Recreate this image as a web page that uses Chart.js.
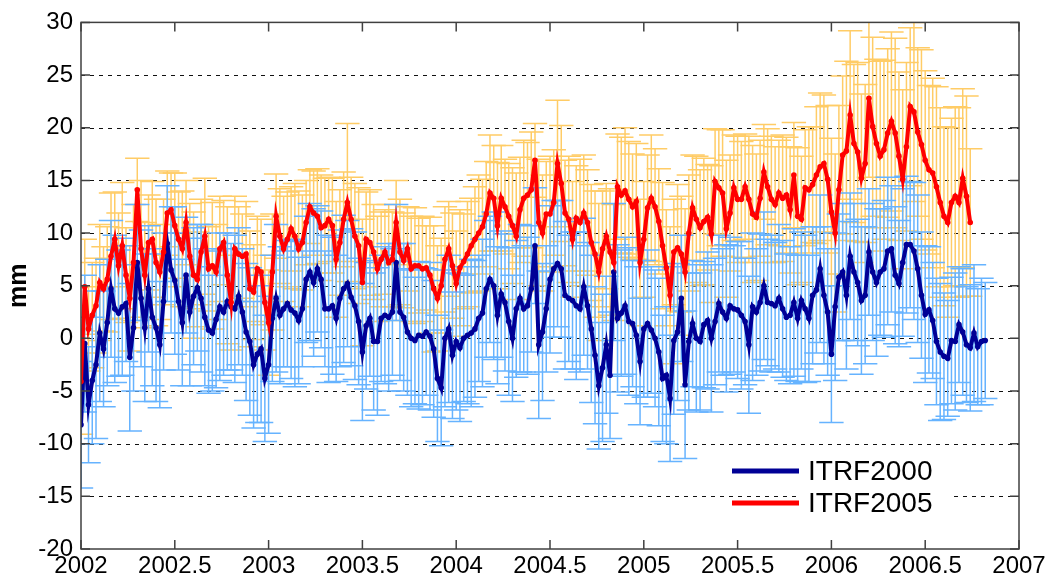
<!DOCTYPE html>
<html>
<head>
<meta charset="utf-8">
<script src="https://cdn.jsdelivr.net/npm/chart.js@4.4.1/dist/chart.umd.min.js"></script>
<style>
  html, body { margin: 0; padding: 0; background: #fff; }
  #wrap { width: 1052px; height: 583px; }
</style>
</head>
<body>
<div id="wrap"><canvas id="chart"></canvas></div>
<script>
// weekly-ish epochs (decimal years)
const years = [
  2002.00,2002.02,2002.04,2002.06,2002.08,2002.10,2002.12,2002.14,2002.16,2002.18,
  2002.20,2002.22,2002.24,2002.26,2002.28,2002.30,2002.32,2002.34,2002.36,2002.38,
  2002.40,2002.42,2002.44,2002.46,2002.48,2002.50,2002.52,2002.54,2002.56,2002.58,
  2002.60,2002.62,2002.64,2002.66,2002.68,2002.70,2002.72,2002.74,2002.76,2002.78,
  2002.80,2002.82,2002.84,2002.86,2002.88,2002.90,2002.92,2002.94,2002.96,2002.98,
  2003.00,2003.02,2003.04,2003.06,2003.08,2003.10,2003.12,2003.14,2003.16,2003.18,
  2003.20,2003.22,2003.24,2003.26,2003.28,2003.30,2003.32,2003.34,2003.36,2003.38,
  2003.40,2003.42,2003.44,2003.46,2003.48,2003.50,2003.52,2003.54,2003.56,2003.58,
  2003.60,2003.62,2003.64,2003.66,2003.68,2003.70,2003.72,2003.74,2003.76,2003.78,
  2003.80,2003.82,2003.84,2003.86,2003.88,2003.90,2003.92,2003.94,2003.96,2003.98,
  2004.00,2004.02,2004.04,2004.06,2004.08,2004.10,2004.12,2004.14,2004.16,2004.18,
  2004.20,2004.22,2004.24,2004.26,2004.28,2004.30,2004.32,2004.34,2004.36,2004.38,
  2004.40,2004.42,2004.44,2004.46,2004.48,2004.50,2004.52,2004.54,2004.56,2004.58,
  2004.60,2004.62,2004.64,2004.66,2004.68,2004.70,2004.72,2004.74,2004.76,2004.78,
  2004.80,2004.82,2004.84,2004.86,2004.88,2004.90,2004.92,2004.94,2004.96,2004.98,
  2005.00,2005.02,2005.04,2005.06,2005.08,2005.10,2005.12,2005.14,2005.16,2005.18,
  2005.20,2005.22,2005.24,2005.26,2005.28,2005.30,2005.32,2005.34,2005.36,2005.38,
  2005.40,2005.42,2005.44,2005.46,2005.48,2005.50,2005.52,2005.54,2005.56,2005.58,
  2005.60,2005.62,2005.64,2005.66,2005.68,2005.70,2005.72,2005.74,2005.76,2005.78,
  2005.80,2005.82,2005.84,2005.86,2005.88,2005.90,2005.92,2005.94,2005.96,2005.98,
  2006.00,2006.02,2006.04,2006.06,2006.08,2006.10,2006.12,2006.14,2006.16,2006.18,
  2006.20,2006.22,2006.24,2006.26,2006.28,2006.30,2006.32,2006.34,2006.36,2006.38,
  2006.40,2006.42,2006.44,2006.46,2006.48,2006.50,2006.52,2006.54,2006.56,2006.58,
  2006.60,2006.62,2006.64,2006.66,2006.68,2006.70,2006.72,2006.74,2006.76,2006.78,
  2006.80,2006.82
];

// ITRF2000 (mm)
const itrf2000 = [
  -8.2,-0.5,-6.3,-4.0,-2.5,0.5,-1.0,1.5,4.7,2.8,
  2.4,3.0,3.3,-1.8,1.0,7.2,3.8,1.0,4.7,2.0,
  1.0,-0.6,3.5,9.0,6.5,5.5,3.5,1.5,6.0,2.5,
  4.0,4.8,3.8,2.0,0.8,0.5,1.8,3.0,2.5,3.5,
  3.0,2.8,4.0,2.5,0.6,-0.3,-2.5,-1.5,-1.0,-3.8,
  -2.5,1.9,3.8,2.2,2.8,3.3,2.7,2.4,1.7,2.8,
  5.6,6.3,5.3,6.6,5.6,2.8,2.8,3.1,1.9,3.8,
  4.7,5.2,3.9,3.1,1.6,-1.3,1.2,1.9,-0.3,-0.3,
  1.9,2.2,2.0,2.5,7.2,2.5,2.0,0.6,0.0,-0.2,
  0.3,0.2,0.6,0.2,-1.0,-3.8,-4.7,0.0,0.9,-1.6,
  -0.3,-0.9,0.0,0.3,0.5,0.9,1.9,2.4,4.7,5.6,
  5.0,2.2,4.2,3.4,1.6,0.0,2.8,3.8,2.8,3.1,
  4.7,8.8,-0.6,0.6,2.8,5.6,6.6,7.1,6.6,4.1,
  3.8,3.6,3.1,2.8,4.9,3.1,0.9,-1.6,-4.5,-2.8,
  -0.6,-3.5,6.3,1.9,2.4,3.1,1.6,1.4,0.3,-2.2,
  0.9,1.4,0.8,0.0,-1.3,-3.8,-3.5,-5.7,-0.2,0.6,
  3.8,-4.4,-0.3,1.4,0.0,-0.3,1.3,1.7,0.0,1.6,
  3.3,2.5,1.9,3.1,2.8,2.7,2.2,1.6,-0.6,3.0,
  2.5,3.4,5.0,3.4,3.3,3.1,3.8,2.8,2.0,2.2,
  3.4,1.9,3.6,2.8,1.9,4.1,4.6,6.6,4.1,2.5,
  -1.5,3.0,5.8,6.3,4.1,7.8,6.3,5.3,3.6,4.1,
  8.2,6.3,5.3,6.3,6.6,8.3,8.5,6.0,5.2,7.2,
  8.9,8.9,8.3,6.6,4.1,2.3,2.7,1.7,-0.3,-1.3,
  -1.7,-1.9,-0.2,-0.3,1.3,0.6,-0.6,-0.9,0.5,-0.8,
  -0.3,-0.2
];
const itrf2000Err = [
  6.0,6.5,5.5,6.0,7.0,6.5,5.5,6.0,6.5,7.0,
  6.0,6.5,5.5,7.0,6.0,5.5,6.5,7.0,6.0,6.5,
  7.0,6.0,6.5,5.5,6.0,7.0,6.5,6.0,5.5,7.0,
  6.5,6.0,7.0,6.5,6.0,5.5,6.5,7.0,6.0,6.5,
  6.0,7.0,6.5,6.0,6.5,7.0,6.0,6.5,7.0,6.0,
  6.5,6.0,7.0,6.5,5.5,6.0,6.5,7.0,6.0,5.5,
  6.0,6.5,7.0,6.0,6.5,5.5,7.0,6.5,6.0,6.5,
  7.0,6.0,6.5,7.0,6.0,6.5,6.0,5.5,6.5,7.0,
  6.0,6.5,7.0,6.0,5.5,6.5,7.0,6.0,6.5,6.0,
  7.0,6.5,6.0,7.0,6.5,6.0,5.5,6.5,7.0,6.0,
  6.5,7.0,6.0,6.5,7.0,6.5,6.0,7.0,6.5,6.0,
  7.0,6.5,6.0,6.5,7.0,6.0,6.5,7.0,6.0,6.5,
  6.0,5.5,7.0,6.5,6.0,7.0,6.5,6.0,6.5,7.0,
  6.0,6.5,7.0,6.0,6.5,6.0,7.0,6.5,6.0,7.0,
  6.5,6.0,6.5,7.0,6.0,6.5,7.0,6.0,6.5,6.0,
  6.5,7.0,6.0,6.5,7.0,6.0,6.5,6.0,7.0,6.5,
  6.0,7.0,6.5,6.0,7.0,6.5,6.0,6.5,7.0,6.0,
  6.5,6.0,7.0,6.5,6.0,6.5,7.0,6.0,6.5,7.0,
  6.0,6.5,7.0,6.0,6.5,6.0,7.0,6.5,6.0,6.5,
  7.0,6.0,6.5,7.0,6.0,6.5,6.0,7.0,6.5,6.0,
  6.5,7.0,6.0,6.5,7.0,6.0,6.5,6.0,7.0,6.5,
  6.0,6.5,7.0,6.0,6.5,7.0,6.0,6.5,6.0,7.0,
  6.5,6.0,6.5,7.0,6.0,6.5,6.0,5.5,6.0,6.5,
  6.0,5.5,6.0,6.5,5.5,6.0,5.5,6.0,6.5,5.5,
  6.0,5.5
];

// ITRF2005 (mm)
const itrf2005 = [
  -4.1,4.9,0.9,2.2,3.1,5.3,4.7,5.6,7.8,9.4,
  6.9,8.8,6.0,3.8,7.2,14.1,8.5,6.0,9.1,9.4,
  7.2,6.3,8.2,11.9,12.2,10.7,9.4,8.5,11.0,7.8,
  6.0,5.6,8.2,9.7,6.6,6.9,6.3,8.5,9.1,6.0,
  3.4,8.5,8.0,7.8,8.0,4.7,4.4,6.6,6.3,3.4,
  1.5,6.3,11.6,9.7,8.5,9.4,10.4,9.7,8.5,9.1,
  11.0,12.5,11.9,11.6,10.5,10.7,11.3,10.7,7.5,9.1,
  11.3,12.9,11.3,9.7,8.8,5.3,9.4,9.1,8.2,6.6,
  7.5,8.2,7.2,7.5,11.0,8.2,7.4,8.5,6.6,6.9,
  6.9,6.6,6.7,6.0,4.7,3.8,5.0,7.5,8.5,6.9,
  5.2,6.7,7.3,8.0,8.8,9.4,10.0,10.6,11.8,13.8,
  13.3,10.7,13.3,12.5,11.6,10.7,9.7,12.2,13.3,13.6,
  14.1,16.9,11.0,10.0,11.8,11.8,12.9,16.6,14.7,11.9,
  11.3,9.4,11.4,11.0,11.9,11.0,9.1,8.0,6.3,8.5,
  9.7,8.2,7.2,14.4,13.6,14.0,13.2,12.5,13.0,7.2,
  9.4,12.4,13.3,12.5,11.1,8.8,6.7,4.1,8.2,8.6,
  8.0,6.3,10.0,12.4,11.3,10.5,11.1,11.5,9.9,14.9,
  14.3,13.8,10.4,11.9,14.3,13.2,13.2,14.4,13.2,11.8,
  11.5,13.3,15.8,14.4,13.2,12.7,13.8,13.3,13.6,12.2,
  15.5,11.6,11.3,14.3,14.1,14.6,15.5,16.3,16.6,15.1,
  12.0,10.0,14.1,17.4,17.8,21.2,18.5,17.7,15.2,16.6,
  22.8,20.1,18.5,17.3,17.9,19.5,20.6,19.5,17.3,15.1,
  18.2,22.0,21.5,19.6,18.4,16.9,16.0,15.7,14.4,12.9,
  11.6,11.0,12.9,13.5,12.9,15.2,13.5,11.0
];
const itrf2005Err = [
  5.0,4.5,4.0,5.0,4.5,5.5,4.0,5.0,6.0,4.5,
  5.0,6.0,4.5,5.0,5.5,3.0,6.5,5.0,4.5,5.5,
  6.0,4.5,5.0,4.0,3.5,5.0,4.5,5.5,4.0,5.0,
  6.0,4.5,5.0,5.5,4.0,6.0,4.5,5.0,4.0,6.5,
  4.5,5.0,4.5,4.0,5.0,5.5,4.5,5.0,5.0,4.5,
  5.0,5.5,4.0,4.5,5.0,4.5,4.0,5.0,5.5,4.5,
  4.0,3.5,4.0,4.5,5.0,4.5,4.0,4.5,5.5,5.0,
  4.5,7.5,4.0,5.0,5.5,6.0,4.5,5.0,4.5,5.0,
  4.5,4.0,5.5,4.5,4.0,5.0,4.5,4.0,5.0,5.5,
  4.5,5.0,4.0,5.5,6.0,5.0,4.5,5.0,4.5,5.0,
  5.0,5.5,4.5,5.0,4.5,5.0,5.5,4.5,5.0,5.5,
  5.0,6.0,5.0,4.5,5.0,5.5,6.0,5.0,5.5,5.0,
  5.5,3.5,6.0,5.5,5.0,5.5,5.0,6.0,5.5,5.0,
  6.0,5.5,5.0,6.0,5.5,5.0,5.5,6.0,6.5,5.5,
  5.0,6.0,5.5,5.0,5.5,6.0,5.5,5.0,5.5,6.0,
  5.5,5.0,6.0,5.5,5.0,6.0,5.5,6.5,5.0,6.0,
  5.5,6.0,5.5,5.0,6.0,5.5,6.0,5.0,6.5,5.0,
  5.5,6.0,6.5,5.5,5.0,6.0,5.5,5.0,6.0,6.5,
  6.0,5.5,4.5,5.5,6.0,5.5,5.0,6.0,5.5,6.0,
  5.0,6.5,6.0,5.5,6.0,5.5,6.5,7.0,6.5,7.0,
  7.0,7.5,8.0,7.5,8.5,8.0,7.5,8.5,8.0,7.5,
  7.5,8.5,8.0,9.0,8.5,8.0,8.5,9.0,8.0,8.5,
  8.0,7.5,8.5,8.0,9.0,8.5,8.0,9.0,9.5,9.0,
  8.5,9.0,8.0,8.5,9.0,8.5,9.5,7.0
];

const seriesLabels = ['ITRF2000', 'ITRF2005'];
const lineColors = ['#000096', '#ff0000'];
const barColors = ['#66b3ff', '#ffcc66'];
const capHalf = 0.065; // years

function pts(xs, ys) {
  return ys.map((v, i) => ({ x: xs[i], y: v }));
}

const errorBars = {
  id: 'errorBars',
  beforeDatasetsDraw(chart) {
    const { ctx, chartArea: a, scales: { x, y } } = chart;
    ctx.save();
    ctx.beginPath();
    ctx.rect(a.left, a.top, a.right - a.left, a.bottom - a.top);
    ctx.clip();

    // dashed horizontal grid
    ctx.strokeStyle = '#111';
    ctx.lineWidth = 1;
    ctx.setLineDash([4, 5]);
    y.ticks.forEach(t => {
      if (t.value <= y.min || t.value >= y.max) return;
      const py = Math.round(y.getPixelForValue(t.value)) + 0.5;
      ctx.beginPath();
      ctx.moveTo(a.left, py);
      ctx.lineTo(a.right, py);
      ctx.stroke();
    });
    ctx.setLineDash([]);

    // error bars, blue first then orange
    ctx.lineWidth = 1.5;
    chart.data.datasets.slice().reverse().forEach(ds => {
      ctx.strokeStyle = ds.barColor;
      ds.data.forEach((p, i) => {
        const e = ds.err[i];
        const px = x.getPixelForValue(p.x);
        const x0 = x.getPixelForValue(p.x - capHalf);
        const x1 = x.getPixelForValue(p.x + capHalf);
        const yt = y.getPixelForValue(p.y + e);
        const yb = y.getPixelForValue(p.y - e);
        ctx.beginPath();
        ctx.moveTo(px, yt); ctx.lineTo(px, yb);
        ctx.moveTo(x0, yt); ctx.lineTo(x1, yt);
        ctx.moveTo(x0, yb); ctx.lineTo(x1, yb);
        ctx.stroke();
      });
    });
    ctx.restore();
  },
  afterDraw(chart) {
    const { ctx, chartArea: a, scales: { x, y } } = chart;
    ctx.save();
    // axes box and inner ticks
    ctx.strokeStyle = '#404040';
    ctx.lineWidth = 1.5;
    ctx.strokeRect(a.left, a.top, a.right - a.left, a.bottom - a.top);
    ctx.beginPath();
    y.ticks.forEach(t => {
      const py = y.getPixelForValue(t.value);
      ctx.moveTo(a.left, py); ctx.lineTo(a.left + 9, py);
      ctx.moveTo(a.right, py); ctx.lineTo(a.right - 9, py);
    });
    x.ticks.forEach(t => {
      const px = x.getPixelForValue(t.value);
      ctx.moveTo(px, a.bottom); ctx.lineTo(px, a.bottom - 9);
      ctx.moveTo(px, a.top); ctx.lineTo(px, a.top + 9);
    });
    ctx.stroke();

    // legend
    ctx.font = '28px Arial, "Liberation Sans", sans-serif';
    ctx.textBaseline = 'middle';
    const lx0 = a.right - 287, lx1 = a.right - 220, tx = a.right - 211;
    ctx.fillStyle = '#fff';
    ctx.fillRect(lx1 + 2, a.bottom - 94, 152, 63);
    seriesLabels.forEach((lab, i) => {
      const ly = a.bottom - 78 + i * 32;
      ctx.strokeStyle = lineColors[i];
      ctx.lineWidth = 5;
      ctx.beginPath();
      ctx.moveTo(lx0, ly); ctx.lineTo(lx1, ly);
      ctx.stroke();
      ctx.fillStyle = '#000';
      ctx.fillText(lab, tx, ly + 1);
    });
    ctx.restore();
  }
};

const ctx = document.getElementById('chart');
const chart = new Chart(ctx, {
  type: 'line',
  data: {
    datasets: [
      {
        label: seriesLabels[0],
        data: pts(years, itrf2000),
        err: itrf2000Err,
        barColor: barColors[0],
        borderColor: lineColors[0],
        backgroundColor: lineColors[0],
        borderWidth: 4,
        pointRadius: 2.8,
        pointBorderWidth: 0,
        tension: 0,
        order: 1
      },
      {
        label: seriesLabels[1],
        data: pts(years, itrf2005),
        err: itrf2005Err,
        barColor: barColors[1],
        borderColor: lineColors[1],
        backgroundColor: lineColors[1],
        borderWidth: 4,
        pointRadius: 2.8,
        pointBorderWidth: 0,
        tension: 0,
        order: 0
      }
    ]
  },
  options: {
    responsive: true,
    maintainAspectRatio: false,
    animation: false,
    events: [],
    layout: { padding: { top: 18, right: 33, left: 0, bottom: 0 } },
    plugins: {
      legend: { display: false },
      tooltip: { enabled: false }
    },
    scales: {
      x: {
        type: 'linear',
        min: 2002, max: 2007,
        grid: { display: false, drawTicks: false },
        border: { display: false },
        ticks: {
          stepSize: 0.5,
          padding: 3,
          color: '#000',
          font: { family: 'Arial, "Liberation Sans", sans-serif', size: 24 },
          maxRotation: 0,
          autoSkip: false,
          callback: v => String(Math.round(v * 10) / 10)
        },
        afterFit(s) { s.height = 34; }
      },
      y: {
        min: -20, max: 30,
        grid: { display: false, drawTicks: false },
        border: { display: false },
        ticks: {
          stepSize: 5,
          padding: 8,
          color: '#000',
          font: { family: 'Arial, "Liberation Sans", sans-serif', size: 24 },
          callback: v => String(v)
        },
        title: {
          display: true,
          text: 'mm',
          color: '#000',
          padding: { top: 4, bottom: 0 },
          font: { family: 'Arial, "Liberation Sans", sans-serif', size: 25, weight: 'bold' }
        },
        afterFit(s) { s.width = 81; }
      }
    }
  },
  plugins: [errorBars]
});
</script>
</body>
</html>
